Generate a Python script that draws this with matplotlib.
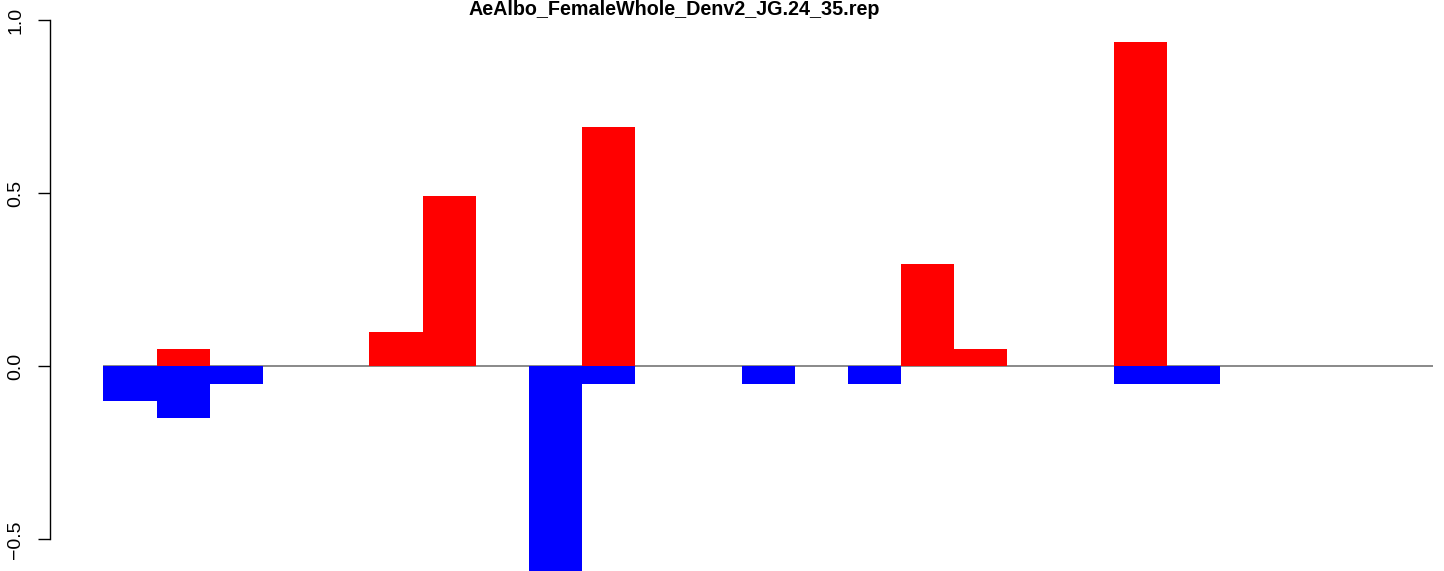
"""
AeAlbo_FemaleWhole_Denv2_JG.24_35.rep — up/down bars per slot.
"""

import matplotlib
matplotlib.use("Agg")

import matplotlib.pyplot as plt
import numpy as np

TITLE = "AeAlbo_FemaleWhole_Denv2_JG.24_35.rep"

# one value per bar slot (25 slots), positive part in red, negative in blue
up_values = [0, 0.05, 0, 0, 0, 0.10, 0.493, 0, 0, 0.69, 0, 0, 0,
             0, 0, 0.295, 0.05, 0, 0, 0.935, 0, 0, 0, 0, 0]
down_values = [-0.10, -0.15, -0.05, 0, 0, 0, 0, 0, -0.60, -0.05, 0, 0, -0.05,
               0, -0.05, 0, 0, 0, 0, -0.05, -0.05, 0, 0, 0, 0]
y_ticks = [-0.5, 0.0, 0.5, 1.0]
y_tick_labels = ["\u22120.5", "0.0", "0.5", "1.0"]

W, H = 1444, 571
plt.rcParams["font.family"] = ["Liberation Sans", "DejaVu Sans"]

fig = plt.figure(figsize=(W / 100, H / 100), dpi=100)
ax = fig.add_axes([50 / W, 0, 1 - 50 / W, 1])

n = len(up_values)
x = np.arange(n)
ax.bar(x, up_values, width=1.0, align="edge", color="#FF0000", linewidth=0, zorder=2)
ax.bar(x, down_values, width=1.0, align="edge", color="#0000FF", linewidth=0, zorder=2)
ax.hlines(0, 0, n, color="#808080", linewidth=1.3, zorder=1)

ax.set_xlim(-1.006, 25.21)
ax.set_ylim(-0.5913, 1.0577)

for s in ["top", "right", "bottom"]:
    ax.spines[s].set_visible(False)
ax.spines["left"].set_bounds(-0.5, 1.0)
ax.spines["left"].set_linewidth(1.0)
ax.set_xticks([])
ax.set_yticks(y_ticks)
ax.set_yticklabels(y_tick_labels, rotation=90, va="center", fontsize=14)
ax.tick_params(axis="y", length=8.6, width=1.0, pad=10)

fig.text(674 / W, 1 - 15 / H, TITLE, ha="center", va="baseline",
         fontsize=14.2, fontweight="bold")

fig.savefig("out.png", dpi=100)
plt.close(fig)
